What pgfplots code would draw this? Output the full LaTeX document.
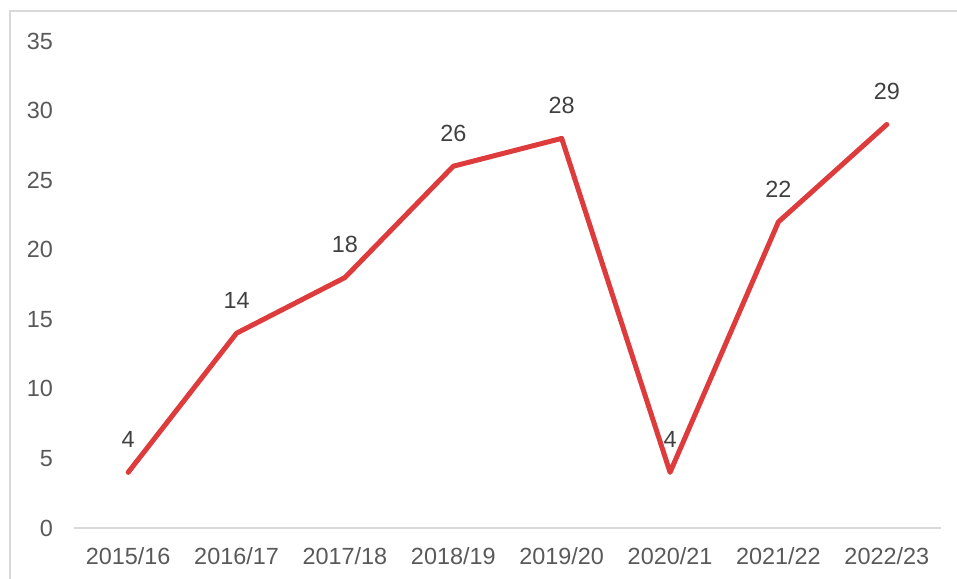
\documentclass[border=0pt]{standalone}
\usepackage{fontspec}
\setmainfont{Liberation Sans}
\usepackage{pgfplots}
\pgfplotsset{compat=1.18}
\definecolor{linered}{RGB}{222,60,60}
\definecolor{ticktext}{RGB}{89,89,89}
\definecolor{labeltext}{RGB}{64,64,64}
\definecolor{bordergray}{RGB}{217,217,217}
\begin{document}
\begin{tikzpicture}
\useasboundingbox (0,0) rectangle (957bp,579bp);
\draw[bordergray, line width=1.2bp] (10bp,-5bp) -- (10bp,568bp) -- (962bp,568bp);
\begin{axis}[
  at={(74bp,51bp)}, anchor=south west,
  scale only axis, width=867bp, height=487bp,
  xmin=-0.5, xmax=7.5, ymin=0, ymax=35,
  axis lines*=left,
  separate axis lines,
  x axis line style={draw=bordergray, line width=1.5bp},
  y axis line style={draw=none},
  major tick length=0pt,
  xtick={0,...,7},
  xticklabels={2015/16,2016/17,2017/18,2018/19,2019/20,2020/21,2021/22,2022/23},
  ytick={0,5,...,35},
  /pgf/number format/assume math mode=true,
  tick label style={font=\fontsize{23.5}{28}\selectfont, text=ticktext, inner sep=0pt},
  yticklabel style={anchor=east, xshift=-21bp},
  xticklabel style={anchor=north, yshift=-19bp},
  clip=false,
  nodes near coords,
  every node near coord/.append style={font=\fontsize{23.5}{28}\selectfont, text=labeltext, anchor=south, inner sep=0pt, yshift=22bp},
]
\addplot[color=linered, line width=5bp, line join=round, line cap=round, mark=none] coordinates {
(0,4) (1,14) (2,18) (3,26) (4,28) (5,4) (6,22) (7,29)
};
\end{axis}
\end{tikzpicture}
\end{document}
